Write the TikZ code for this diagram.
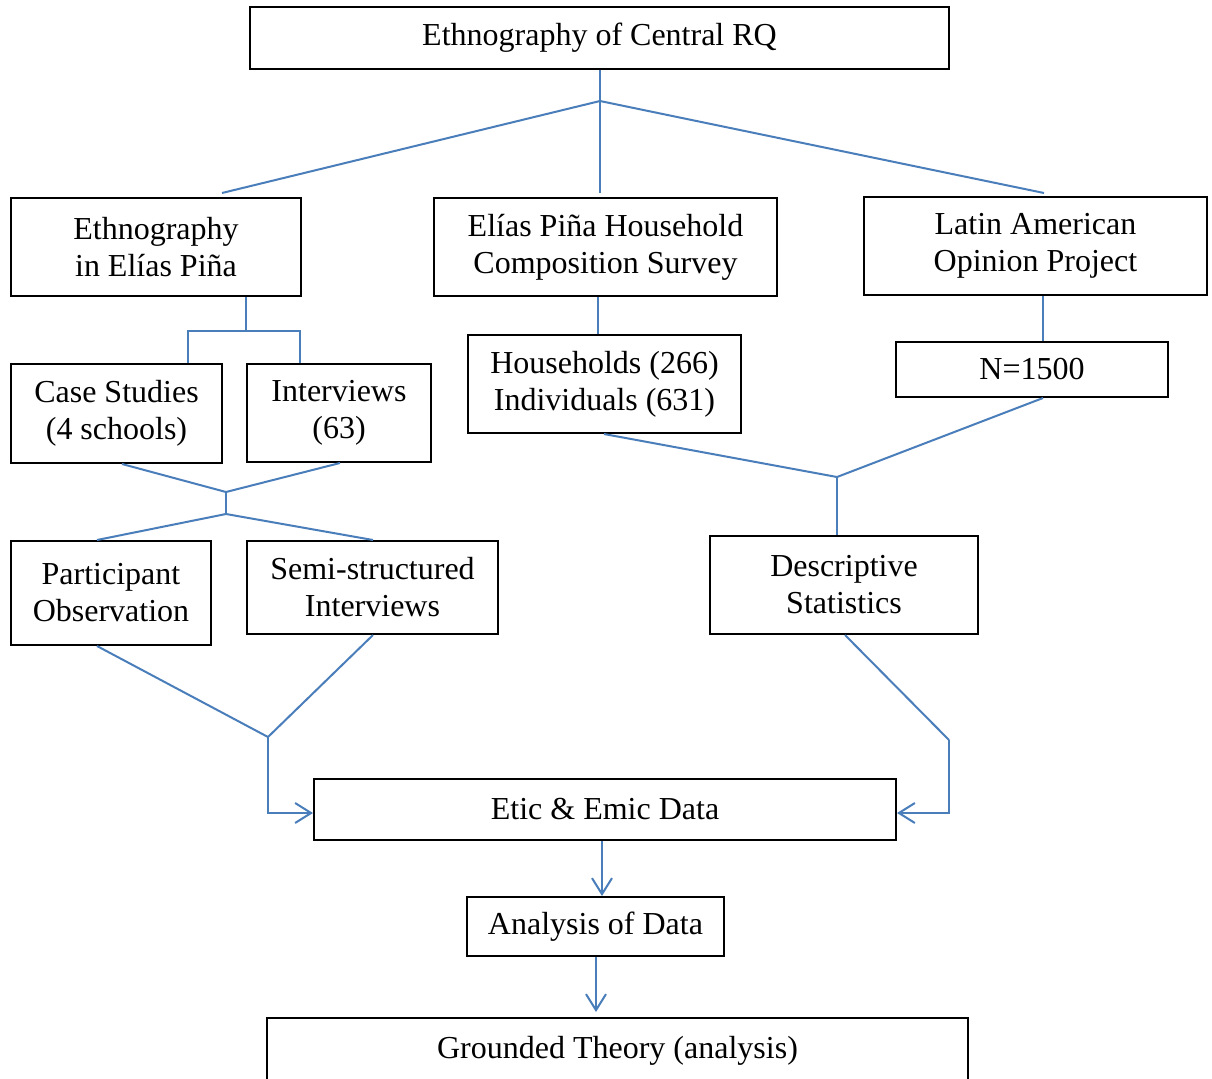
\documentclass[tikz,border=0pt]{standalone}
\usepackage{fontspec}
\setmainfont{Liberation Serif}
\usetikzlibrary{arrows.meta}
\definecolor{lblue}{RGB}{74,126,187}
\begin{document}
\begin{tikzpicture}[x=0.5pt,y=-0.5pt,
  box/.style={draw,line width=1pt,inner sep=0pt,align=center,font=\fontsize{16}{18.5}\selectfont},
  conn/.style={draw=lblue,line width=1pt},
  arr/.style={conn,-{Straight Barb[length=8pt,width=10pt]}}]
\useasboundingbox[fill=white] (0,0) rectangle (1212,1078);

\node[box,minimum width=349.5pt,minimum height=31pt] (top) at (599.5,38) {Ethnography of Central RQ};
\node[box,minimum width=145pt,minimum height=49pt] (eth) at (156,247) {Ethnography\\in Elías Piña};
\node[box,minimum width=171.5pt,minimum height=49pt] (hh) at (605.5,247) {Elías Piña Household\\Composition Survey};
\node[box,minimum width=171.5pt,minimum height=49pt] (lat) at (1035.5,246) {Latin American\\Opinion Project};
\node[box,minimum width=105.5pt,minimum height=49.5pt] (cs) at (116.5,413.5) {Case Studies\\(4 schools)};
\node[box,minimum width=92pt,minimum height=49pt] (int) at (339,413) {Interviews\\(63)};
\node[box,minimum width=136.5pt,minimum height=49pt] (hhs) at (604.5,384) {Households (266)\\Individuals (631)};
\node[box,minimum width=136pt,minimum height=27.5pt] (n) at (1032,369.5) {N=1500};
\node[box,minimum width=100pt,minimum height=52pt] (po) at (111,593) {Participant\\Observation};
\node[box,minimum width=125.5pt,minimum height=46.5pt] (ss) at (372.5,587.5) {Semi-structured\\Interviews};
\node[box,minimum width=134pt,minimum height=49pt] (ds) at (844,585) {Descriptive\\Statistics};
\node[box,minimum width=291pt,minimum height=30.5pt] (ee) at (605,809.5) {Etic \& Emic Data};
\node[box,minimum width=128.5pt,minimum height=29.5pt] (ad) at (595.5,926.5) {Analysis of Data};
\node[box,minimum width=350.5pt,minimum height=33pt] (gt) at (617.5,1051) {Grounded Theory (analysis)};

% top tree
\coordinate (j1) at (600,101);
\coordinate (e1) at (222,193);
\coordinate (e2) at (600,193);
\coordinate (e3) at (1044,193);
\draw[conn] (top.south -| j1) -- (j1);
\draw[conn] (j1) -- (e1);
\draw[conn] (j1) -- (e2);
\draw[conn] (j1) -- (e3);

% ethnography branch
\coordinate (j2) at (246,331);
\coordinate (b1) at (188,331);
\coordinate (b2) at (300,331);
\draw[conn] (eth.south -| j2) -- (j2);
\draw[conn] (b1 |- cs.north) -- (b1) -- (b2) -- (b2 |- int.north);

% household and LAPOP
\coordinate (hx) at (598,316);
\draw[conn] (hh.south -| hx) -- (hhs.north -| hx);
\coordinate (lx) at (1043,320);
\draw[conn] (lat.south -| lx) -- (n.north -| lx);

% case studies / interviews merge
\coordinate (j3) at (226,492);
\coordinate (j4) at (226,514);
\coordinate (f1) at (97,540);
\coordinate (f2) at (373,540);
\draw[conn] (cs.south -| 122,0) -- (j3) -- (int.south -| 340,0);
\draw[conn] (j3) -- (j4);
\draw[conn] (f1) -- (j4) -- (f2);

% statistics merge
\coordinate (j5) at (837,477);
\draw[conn] (hhs.south -| 604,0) -- (j5) -- (n.south -| 1043,0);
\draw[conn] (j5) -- (ds.north -| j5);

% into etic & emic
\coordinate (j6) at (268,737);
\draw[conn] (po.south -| 97,0) -- (j6) -- (ss.south -| 373,0);
\draw[arr] (j6) |- (ee.west |- 0,813);
\coordinate (j7) at (949,740);
\draw[conn] (ds.south -| 845,0) -- (j7);
\draw[arr] (j7) |- (ee.east |- 0,813);

% down the chain
\draw[arr] (ee.south -| 602,0) -- (ad.north -| 602,0);
\draw[arr,shorten >=2.5pt] (ad.south -| 596,0) -- (gt.north -| 596,0);
\end{tikzpicture}
\end{document}
